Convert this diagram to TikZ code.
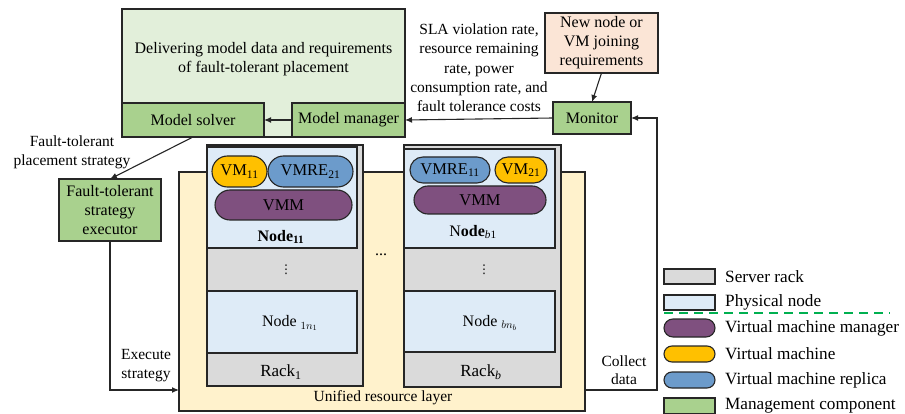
\documentclass[tikz,border=0pt]{standalone}
\usepackage{fontspec}
\setmainfont{Liberation Serif}
\newfontfamily\djv{DejaVu Sans}
\usetikzlibrary{arrows.meta,shapes.misc}
\definecolor{lgreen}{HTML}{E2EFDA}
\definecolor{mgreen}{HTML}{A9D18E}
\definecolor{peach}{HTML}{FBE5D6}
\definecolor{lyellow}{HTML}{FFF2CC}
\definecolor{rackgray}{HTML}{DADADA}
\definecolor{nodeblue}{HTML}{DEEBF7}
\definecolor{vmyellow}{HTML}{FFC000}
\definecolor{vmreblue}{HTML}{6C9BCB}
\definecolor{vmmpurple}{HTML}{7F507F}
\definecolor{dashgreen}{HTML}{00B050}
\definecolor{edge}{HTML}{262626}
\tikzset{
  base/.style={draw=edge, line width=1.1pt, inner sep=0pt, outer sep=0pt},
  boxtxt/.style={font=\fontsize{16}{19}\selectfont, align=center},
  mgmt/.style={base, fill=mgreen, boxtxt},
  rackbox/.style={base, line width=1.4pt, fill=rackgray},
  pnode/.style={base, fill=nodeblue},
  pill/.style={base, rounded rectangle, font=\fontsize{16.5}{19}\selectfont},
  vmpill/.style={pill, fill=vmyellow},
  vmrepill/.style={pill, fill=vmreblue},
  vmmpill/.style={pill, fill=vmmpurple},
  note/.style={font=\fontsize{15.5}{19.3}\selectfont, align=center, inner sep=0pt},
  lgtxt/.style={font=\fontsize{17.2}{20}\selectfont, anchor=west, inner sep=0pt},
  vdotstxt/.style={font=\djv\fontsize{12}{12}\selectfont, inner sep=0pt},
  arr/.style={draw=edge, line width=1.1pt, -{Latex[length=7pt,width=6pt]}},
  wh/.style={minimum width=#1},
  ht/.style={minimum height=#1}
}
\begin{document}
\begin{tikzpicture}[x=1pt,y=-1pt]
\useasboundingbox (0,0) rectangle (905,414);

% top management
\node[base, fill=lgreen, wh=283, ht=128] (deliver) at (263.5,73) {};
\node[boxtxt, inner sep=0pt] (delivertext) at (263.5,59) {Delivering model data and requirements\\of fault-tolerant placement};
\node[mgmt, wh=142, ht=34] (solver) at (193,120) {Model solver};
\node[mgmt, wh=113, ht=34] (manager) at (348.5,120) {Model manager};
\node[base, fill=peach, boxtxt, wh=113, ht=60] (newnode) at (601.5,43) {New node or\\VM joining\\requirements};
\node[mgmt, wh=78, ht=32] (monitor) at (592,118) {Monitor};
\node[mgmt, wh=102, ht=62] (executor) at (110,210) {Fault-tolerant\\strategy\\executor};

\node[note] (slatext) at (479,68) {SLA violation rate,\\resource remaining\\rate, power\\consumption rate, and\\fault tolerance costs};
\node[note] (ftps) at (72,152.5) {Fault-tolerant\\placement strategy};

% resource layer
\node[base, fill=lyellow, wh=406, ht=239] (layer) at (382,291.5) {};
\node[note] (layertext) at (383,398) {Unified resource layer};

% rack 1
\node[rackbox, wh=156, ht=241] (rack1) at (285,265.5) {};
\node[pnode, wh=150, ht=101] (node11) at (282,197.5) {};
\node[vmpill, minimum width=55, minimum height=31] (vm11) at (239.5,171.5) {VM\textsubscript{11}};
\node[vmrepill, minimum width=85, minimum height=31] (vmre21) at (310.5,171.5) {VMRE\textsubscript{21}};
\node[vmmpill, minimum width=137, minimum height=30] (vmm1) at (283.5,205) {VMM};
\node[boxtxt] (n11lab) at (281,237) {\textbf{Node}\textsubscript{\textbf{11}}};
\node[vdotstxt] (dots1) at (286,270) {⋮};
\node[pnode, wh=150, ht=62] (node1n) at (282,322) {};
\node[boxtxt] (n1nlab) at (290,323) {Node $_{1n_1}$};
\node[boxtxt, font=\fontsize{17}{19}\selectfont] (rack1lab) at (281,372) {Rack\textsubscript{1}};

% rack b
\node[rackbox, wh=157, ht=242] (rackb) at (482.5,266) {};
\node[pnode, wh=151, ht=99] (nodeb1) at (479.5,198.5) {};
\node[vmrepill, minimum width=80, minimum height=26] (vmre11) at (450,170) {VMRE\textsubscript{11}};
\node[vmpill, minimum width=52, minimum height=26] (vm21) at (521,170) {VM\textsubscript{21}};
\node[vmmpill, minimum width=132, minimum height=28] (vmmb) at (480,200) {VMM};
\node[boxtxt] (nb1lab) at (473,232) {N\textbf{ode}\textsubscript{\textit{b}1}};
\node[vdotstxt] (dotsb) at (484,270) {⋮};
\node[pnode, wh=151, ht=61] (nodebn) at (479.5,321.5) {};
\node[boxtxt] (nbnlab) at (490,323) {Node $_{bn_b}$};
\node[boxtxt, font=\fontsize{17}{19}\selectfont] (rackblab) at (481,372) {Rack\textsubscript{\textit{b}}};

\node[boxtxt, inner sep=0pt] (hdots) at (381,255) {...};

% connectors
\coordinate (y390) at (0,390);
\coordinate (cr) at (657,390);
\draw[arr] (manager.west) -- (solver.east);
\draw[arr] (monitor.west) -- (manager.east);
\draw[arr] (newnode.south) -- (monitor.north);
\draw[arr] (solver.south) -- (executor.north);
\draw[arr] (executor.south) |- (layer.west |- y390);
\draw[arr] (layer.east |- y390) -- (cr) |- (monitor.east);

\node[note] (exectext) at (146,365.5) {Execute\\strategy};
\node[note, font=\fontsize{15.5}{17.5}\selectfont] (colltext) at (624,370) {Collect\\data};

% legend
\node[base, fill=rackgray, wh=51, ht=15] (lg1) at (689.5,276.5) {};
\node[lgtxt] (lt1) at (725,277) {Server rack};
\node[base, fill=nodeblue, wh=51, ht=15] (lg2) at (689.5,302.5) {};
\node[lgtxt] (lt2) at (725,302) {Physical node};
\coordinate (dl) at (664,313);
\coordinate (dr) at (890,313);
\draw[dashgreen, line width=1.4pt, dash pattern=on 9pt off 6pt] (dl) -- (dr);
\node[vmmpill, minimum width=51, minimum height=18] (lg3) at (689.5,328) {};
\node[lgtxt] (lt3) at (725,328) {Virtual machine manager};
\node[vmpill, minimum width=51, minimum height=16] (lg4) at (689.5,354) {};
\node[lgtxt] (lt4) at (725,354) {Virtual machine};
\node[vmrepill, minimum width=51, minimum height=16] (lg5) at (689.5,380) {};
\node[lgtxt] (lt5) at (725,380) {Virtual machine replica};
\node[base, fill=mgreen, wh=51, ht=16] (lg6) at (689.5,406) {};
\node[lgtxt] (lt6) at (725,406) {Management component};
\end{tikzpicture}
\end{document}
